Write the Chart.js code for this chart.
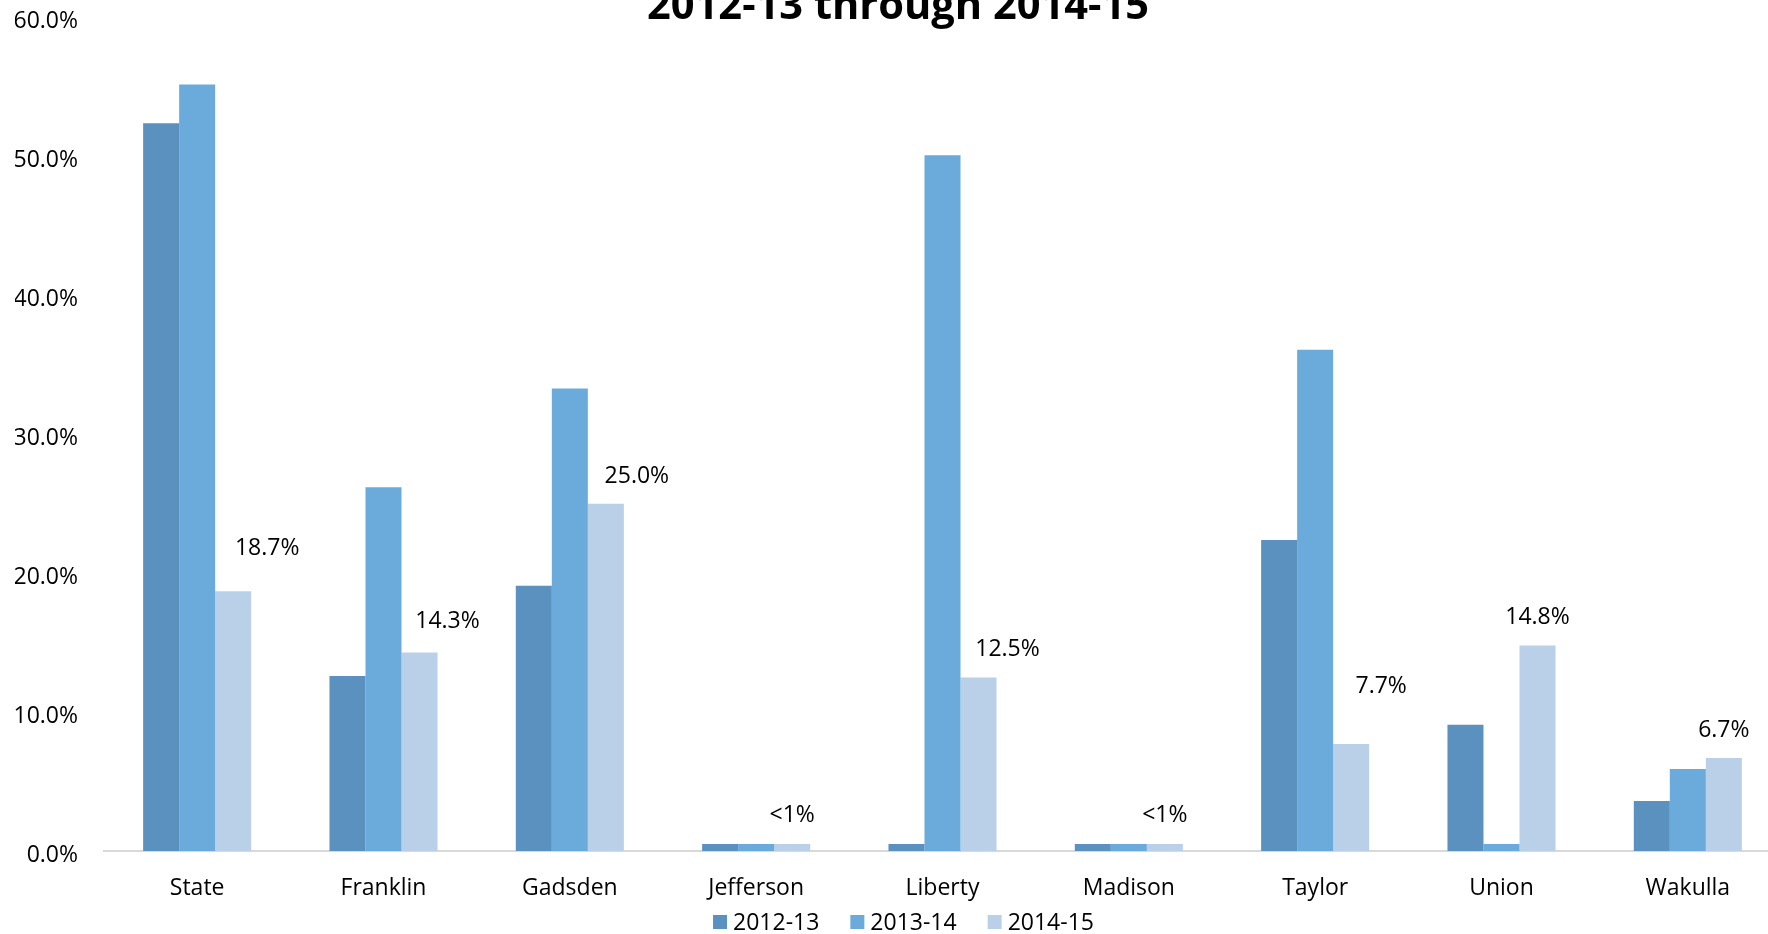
<!DOCTYPE html>
<html>
<head>
<meta charset="utf-8">
<title>2012-13 through 2014-15</title>
<script src="https://cdn.jsdelivr.net/npm/chart.js@4.4.1/dist/chart.umd.min.js"></script>
<style>
  html, body { margin: 0; padding: 0; background: #ffffff; overflow: hidden; width: 1768px; height: 934px; }
  #wrap { position: absolute; left: 0; top: -22px; width: 1792px; height: 965px; }
  #wrap canvas { display: block; }
</style>
</head>
<body>
<div id="wrap"><canvas id="chart" width="1792" height="965"></canvas></div>
<script>
// Categories and yearly rates (percent)
const districts = ['State', 'Franklin', 'Gadsden', 'Jefferson', 'Liberty', 'Madison', 'Taylor', 'Union', 'Wakulla'];
const years = ['2012-13', '2013-14', '2014-15'];
const rate2012_13 = [52.4, 12.6, 19.1, 0.5, 0.5, 0.5, 22.4, 9.1, 3.6];
const rate2013_14 = [55.2, 26.2, 33.3, 0.5, 50.1, 0.5, 36.1, 0.5, 5.9];
const rate2014_15 = [18.7, 14.3, 25.0, 0.5, 12.5, 0.5, 7.7, 14.8, 6.7];
const yTickValues = [0, 10, 20, 30, 40, 50, 60];
const chartTitle = '2012-13 through 2014-15';

// Styling
const seriesColors = ['#5B91BF', '#6AABDB', '#BAD0E8'];
const FONT = "'Open Sans', 'DejaVu Sans', sans-serif";
const TEXT = '#000000';

// Hand-placed offsets (px) for the 2014-15 value labels
const labelNudge = [[34, -15], [28, -3], [31, 0], [0, -1], [29, 0], [0, -1], [30, -30], [0, 0], [0, 0]];

const valueLabels = {
  id: 'valueLabels',
  afterDatasetsDraw(chart) {
    const meta = chart.getDatasetMeta(2);
    const ctx = chart.ctx;
    ctx.save();
    ctx.font = '23px ' + FONT;
    ctx.fillStyle = TEXT;
    ctx.textAlign = 'center';
    ctx.textBaseline = 'alphabetic';
    meta.data.forEach((bar, i) => {
      const v = rate2014_15[i];
      const txt = v < 1 ? '<1%' : v.toFixed(1) + '%';
      const [dx, dy] = labelNudge[i];
      ctx.fillText(txt, bar.x + dx, bar.y - 21 + dy);
    });
    ctx.restore();
  }
};

// Compact legend row under the category labels
const seriesLegend = {
  id: 'seriesLegend',
  afterDraw(chart) {
    const ctx = chart.ctx;
    const area = chart.chartArea;
    const box = 14, gap = 6, spacing = 31;
    ctx.save();
    ctx.font = '23px ' + FONT;
    const items = chart.data.datasets.map(ds => ({
      text: ds.label, color: ds.backgroundColor, w: ctx.measureText(ds.label).width
    }));
    const total = items.reduce((s, it) => s + box + gap + it.w, 0) + spacing * (items.length - 1);
    let x = (area.left + area.right) / 2 - 39 - total / 2;
    const cy = area.bottom + 71;
    ctx.textAlign = 'left';
    ctx.textBaseline = 'alphabetic';
    items.forEach(it => {
      ctx.fillStyle = it.color;
      ctx.fillRect(x, cy - box / 2, box, box);
      ctx.fillStyle = TEXT;
      ctx.fillText(it.text, x + box + gap, cy + 8);
      x += box + gap + it.w + spacing;
    });
    ctx.restore();
  }
};

const LEFT_PAD = 15;

new Chart(document.getElementById('chart'), {
  type: 'bar',
  data: {
    labels: districts,
    datasets: [
      { label: years[0], data: rate2012_13, backgroundColor: seriesColors[0] },
      { label: years[1], data: rate2013_14, backgroundColor: seriesColors[1] },
      { label: years[2], data: rate2014_15, backgroundColor: seriesColors[2] }
    ]
  },
  options: {
    responsive: false,
    animation: false,
    devicePixelRatio: 1,
    layout: { padding: { left: LEFT_PAD, right: 11, top: 0, bottom: 0 } },
    datasets: { bar: { categoryPercentage: 0.58, barPercentage: 1.0, borderWidth: 0 } },
    plugins: {
      title: {
        display: true,
        text: chartTitle,
        color: TEXT,
        font: { family: FONT, size: 41.6, weight: 'bold', lineHeight: '22px' },
        padding: { top: 9, bottom: 0 }
      },
      legend: { display: false },
      tooltip: { enabled: false }
    },
    scales: {
      x: {
        grid: { display: false, drawTicks: false },
        border: { display: true, color: '#D9D9D9', width: 2 },
        ticks: { color: TEXT, font: { family: FONT, size: 23 }, padding: 24, maxRotation: 0 },
        afterFit(scale) { scale.height = 92; }
      },
      y: {
        min: 0,
        max: 60,
        afterBuildTicks(scale) { scale.ticks = yTickValues.map(v => ({ value: v })); },
        grid: { display: false, drawTicks: false },
        border: { display: false },
        ticks: {
          color: TEXT,
          font: { family: FONT, size: 23 },
          padding: 26,
          labelOffset: 4,
          callback: v => v.toFixed(1) + '%'
        },
        afterFit(scale) { scale.width = 104 - LEFT_PAD; }
      }
    }
  },
  plugins: [valueLabels, seriesLegend]
});
</script>
</body>
</html>
